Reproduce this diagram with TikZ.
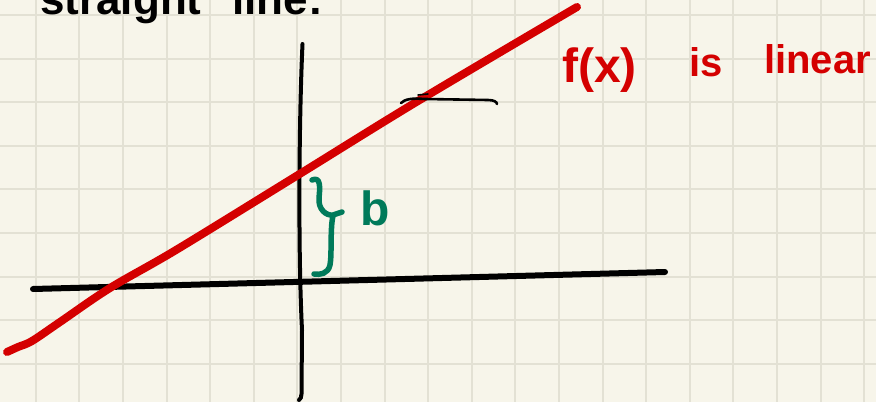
\documentclass[tikz,border=0pt]{standalone}
\usepackage{fontspec}
\newfontfamily\hand{Liberation Sans}
\definecolor{paper}{HTML}{F7F5EA}
\definecolor{gridc}{HTML}{E3E1D4}
\definecolor{inkred}{HTML}{D40000}
\definecolor{inkgreen}{HTML}{007A5A}
\tikzset{
  gridline/.style={draw=gridc, line width=2pt},
  axisline/.style={draw=black, line width=6pt, line cap=round},
  vaxis/.style={draw=black, line width=4pt, line cap=round},
  redline/.style={draw=inkred, line width=8pt, line cap=round, line join=round},
  tickline/.style={draw=black, line width=2.6pt, line cap=round},
  bracestroke/.style={draw=inkgreen, line width=5.5pt, line cap=round, line join=round},
  handtext/.style={inner sep=0pt, anchor=base west, font=\hand\bfseries},
}
\begin{document}
\begin{tikzpicture}[x=1pt,y=-1pt]
\useasboundingbox (0,0) rectangle (876,402);
\clip (0,0) rectangle (876,402);
\fill[paper] (0,0) rectangle (876,402);
\foreach \k in {0,...,19} \draw[gridline] ({35.7+43.6*\k},0) -- ({35.7+43.6*\k},402);
\foreach \k in {0,...,8} \draw[gridline] (0,{15+43.6*\k}) -- (876,{15+43.6*\k});

% top heading (cut off at the top edge, as in the reference)
\node[handtext, font=\hand\bfseries\fontsize{44}{44}\selectfont] (w1) at (40,14) {straight};
\node[handtext, font=\hand\bfseries\fontsize{44}{44}\selectfont] (w2) at (232,14) {line:};

% axes
\coordinate (hl) at (33,289);
\coordinate (hr) at (665,272);
\draw[axisline] (hl) -- (hr);
\coordinate (vt) at (302.5,44);
\coordinate (vb) at (299,400);
\draw[vaxis] (vt) .. controls (299,120) and (298,250) .. (302,330) -- (301.5,394) .. controls (301.5,397) and (300.5,399) .. (vb);

% red line
\draw[redline] plot[smooth, tension=0.55] coordinates {(7,352) (18,347) (32,341) (60,322) (110,288) (176,250) (298,175) (418,101) (577,7)};

% small tick mark
\draw[tickline] (401,103) .. controls (405,99) and (412,98) .. (425,99) -- (488,100) .. controls (494,100) and (497,102) .. (497,104);
\draw[tickline, line width=1.6pt] (418,95) -- (428,94);

% green brace and b
\draw[bracestroke] (312,180) .. controls (321,176) and (320,188) .. (319,198) .. controls (318,209) and (326,216) .. (333,215) -- (342,212);
\draw[bracestroke] (333,216) .. controls (330,228) and (332,255) .. (330,265) .. controls (328,274) and (320,275) .. (314,274);
\node[handtext, text=inkgreen, font=\hand\bfseries\fontsize{48}{48}\selectfont] (b) at (360,225) {b};

% red label
\node[handtext, text=inkred, font=\hand\bfseries\fontsize{48}{48}\selectfont] (fx) at (562,82) {f(x)};
\node[handtext, text=inkred, font=\hand\bfseries\fontsize{40}{40}\selectfont] (is) at (689,76) {is};
\node[handtext, text=inkred, font=\hand\bfseries\fontsize{40}{40}\selectfont] (lin) at (764,73) {linear};
\end{tikzpicture}
\end{document}
